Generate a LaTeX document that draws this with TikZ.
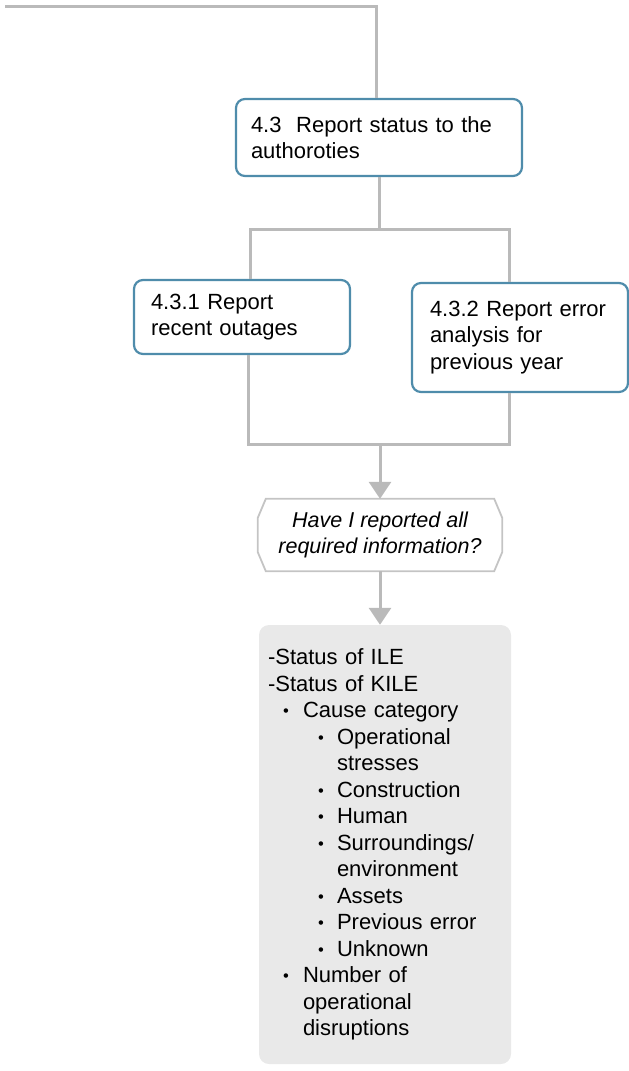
\documentclass[tikz,border=0pt]{standalone}
\usepackage{fontspec}
\usepackage{graphicx}
\setmainfont{Liberation Sans}
\usetikzlibrary{arrows.meta,calc}

\definecolor{taskedge}{HTML}{4F8CAB}
\definecolor{linkgray}{HTML}{BABABA}
\definecolor{hexedge}{HTML}{C4C4C4}
\definecolor{notefill}{HTML}{E9E9E9}

% bullets for the two list levels
\newcommand\lvlA[1]{\hspace*{18pt}\makebox[0pt]{\raisebox{1pt}{\scalebox{0.75}{•}}}\hspace*{17pt}#1}
\newcommand\lvlB[1]{\hspace*{53pt}\makebox[0pt]{\raisebox{1pt}{\scalebox{0.75}{•}}}\hspace*{16pt}#1}

\tikzset{
  taskbox/.style={draw=taskedge, line width=2.2pt, rounded corners=9pt, fill=white,
    inner sep=0pt, align=left, font=\fontsize{22}{26.5}\selectfont},
  link/.style={draw=linkgray, line width=3pt},
  linkarrow/.style={link, -{Triangle[width=22pt,length=17pt]}},
  hexline/.style={draw=hexedge, line width=1.8pt},
  notebox/.style={fill=notefill, rounded corners=10pt, inner sep=0pt, align=left,
    font=\fontsize{22}{26.5}\selectfont}
}

\begin{document}
\begin{tikzpicture}[x=1pt,y=-1pt]
  \useasboundingbox (0,0) rectangle (629,1071);

  % process boxes
  \node[taskbox, minimum width=286pt, minimum height=77pt, text width=256pt]
    (b43) at (379,137.5) {4.3\ \ Report status to the\\authoroties};
  \node[taskbox, minimum width=216pt, minimum height=74pt, text width=182pt]
    (b431) at (242,317) {4.3.1 Report\\recent outages};
  \node[taskbox, minimum width=216pt, minimum height=109pt, text width=180pt]
    (b432) at (520,337.5) {4.3.2 Report error\\analysis for\\previous year};

  % decision
  \node[inner sep=0pt, minimum width=244pt, minimum height=72pt, align=center,
    font=\itshape\fontsize{21.5}{26.5}\selectfont]
    (q) at (380,535) {Have I reported all\\required information?};
  \draw[hexline] ($(q.north west)+(8,0)$) -- ($(q.north east)+(-8,0)$)
    -- ($(q.north east)+(0,19)$) -- ($(q.south east)+(0,-19)$)
    -- ($(q.south east)+(-8,0)$) -- ($(q.south west)+(8,0)$)
    -- ($(q.south west)+(0,-19)$) -- ($(q.north west)+(0,19)$) -- cycle;

  % checklist
  \node[notebox, minimum width=252pt, minimum height=439pt, text width=234pt]
    (info) at (385,844.5) {%
      -Status of ILE\\
      -Status of KILE\\
      \lvlA{Cause category}\\
      \lvlB{Operational}\\
      \hspace*{69pt}stresses\\
      \lvlB{Construction}\\
      \lvlB{Human}\\
      \lvlB{Surroundings/}\\
      \hspace*{69pt}environment\\
      \lvlB{Assets}\\
      \lvlB{Previous error}\\
      \lvlB{Unknown}\\
      \lvlA{Number of}\\
      \hspace*{35pt}operational\\
      \hspace*{35pt}disruptions};

  % connectors
  \coordinate (entry) at (5,6);
  \coordinate (splitL) at (250,229);
  \coordinate (splitR) at (509,229);
  \coordinate (joinL) at (248,444);
  \coordinate (joinR) at (509,444);
  \coordinate (joinM) at (380,444);

  \draw[link] (entry) -| ([xshift=-3pt]b43.north);
  \draw[link] (b43.south) -- (b43.south |- splitL);
  \draw[link] (b431.north -| splitL) -- (splitL) -- (splitR) -- (b432.north -| splitR);
  \draw[link] (b431.south -| joinL) -- (joinL) -- (joinR) -- (b432.south -| joinR);
  \draw[linkarrow] (joinM) -- (q.north);
  \draw[linkarrow] (q.south) -- (q.south |- info.north);
\end{tikzpicture}
\end{document}
